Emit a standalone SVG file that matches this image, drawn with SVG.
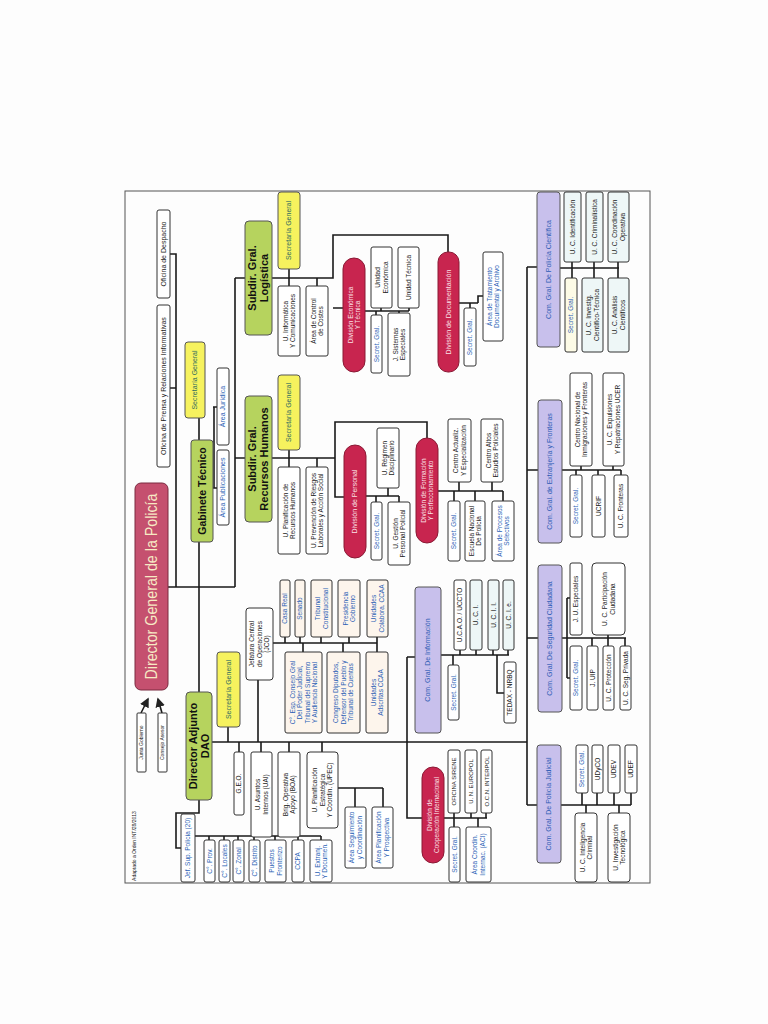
<svg xmlns="http://www.w3.org/2000/svg" width="768" height="1024" viewBox="0 0 768 1024">
<style>
.t{font-family:"Liberation Sans",Arial,sans-serif;font-size:6.5px;fill:#1a1a1a}
.b{fill:#2a5fb5}
.y{fill:#2c6b60;font-size:7px}
.r{fill:#fbe3e8}
.p{fill:#2d5bb5;font-size:7px}
.g{font-weight:bold;font-size:11px;fill:#111}
.w{fill:#fff;stroke:#333;stroke-width:1}
.wl{fill:#eef7f7;stroke:#333;stroke-width:1}
.pk{fill:#fdf5ec;stroke:#333;stroke-width:1}
.cr{fill:#fdfbe6;stroke:#333;stroke-width:1}
.yl{fill:#f6f25e;stroke:#555;stroke-width:1}
.gr{fill:#b6d35e;stroke:#555;stroke-width:1}
.rd{fill:#c8254f;stroke:#8a1a35;stroke-width:1}
.pu{fill:#c8c0ec;stroke:#555;stroke-width:1}
.c path{fill:none;stroke:#1a1a1a;stroke-width:1.6}
</style>
<defs>
<marker id="ah" markerWidth="6" markerHeight="6" refX="5" refY="3" orient="auto"><path d="M0,0 L6,3 L0,6 z" fill="#222"/></marker>
</defs>
<rect width="768" height="1024" fill="#fdfdfd"/>
<rect x="125" y="191" width="525" height="692" fill="none" stroke="#555" stroke-width="1"/>

<g class="c" id="connectors">
<path d="M170 254 H176 V587 M168 388 H176 M168 587 H235 M235 278 V587 M235 278 H245 M235 458 H245"/>
<path d="M199 418 V440 M199 542 V692 M213 407 H217 M214 407 V488 M213 488 H217"/>
<path d="M272 278 H333 V235 H448 V252 M333 308 H343 M289 269 V286 M317 278 V286"/>
<path d="M365 311 H409 M381 308 V311 M409 308 V311 M376 311 V315 M399 311 V313"/>
<path d="M459 303 H478 M470 303 V308 M478 303 V296 H483"/>
<path d="M527 267 V805 M527 267 H537 M527 470 H538 M527 638 H538 M527 805 H537"/>
<path d="M560 268 H619 M572 262 V278 M594 262 V278 M618 262 V278"/>
<path d="M562 470 H621 M581 466 V470 M576 470 V475 M613 466 V470 M598 470 V475 M621 470 V475"/>
<path d="M562 638 H626 M608 635 V638 M592 638 V646 M608 638 V646 M625 638 V646 M567 598 V678 M567 598 H570 M567 678 H570"/>
<path d="M561 805 H631 M582 793 V805 M597 793 V805 M614 793 V805 M631 793 V805 M586 805 V813 M619 805 V813"/>
<path d="M212 742 H527 M228 727 V742 M239 742 V752 M261 742 V752 M289 742 V752 M322 742 V752 M258 680 V742 M407 657 V818 H422 M407 657 H415"/>
<path d="M273 643 H377 M285 637 V643 M300 637 V643 M321 637 V643 M349 637 V643 M377 637 V643 M303 643 V652 M343 643 V652 M377 643 V652"/>
<path d="M338 788 H383 M355 788 V807 M383 788 V807"/>
<path d="M199 800 V813 H176 V848 H181 M195 836 H321 M209 836 V840 M224 836 V840 M238 836 V840 M254 836 V840 M275 836 V840 M298 836 V840 M321 836 V840"/>
<path d="M441 655 H509 M460 650 V655 M476 650 V655 M493 650 V655 M508 650 V655 M453 655 V665 M497 655 V693 H504"/>
<path d="M444 818 H487 M454 813 V818 M471 813 V818 M486 813 V818 M454 818 V827 M478 818 V827"/>
<path d="M272 458 H335 V422 H427 V438 M335 458 V497 H344 M289 450 V467 M317 458 V467"/>
<path d="M366 496 H399 M388 488 V496 M376 496 V502 M399 496 V502"/>
<path d="M438 491 H503 M459 482 V491 M492 482 V491 M454 491 V501 M475 491 V501 M503 491 V501"/>
<path d="M141 713 L148 699" stroke-width="1.2" marker-end="url(#ah)"/>
<path d="M162 713 L158 699" stroke-width="1.2" marker-end="url(#ah)"/>
</g>

<g text-anchor="middle">
<text class="t" style="font-size:5px" transform="rotate(-90 134 846)" x="134" y="847.75">Adaptado a Orden INT/28/2013</text>

<g id="desp"><rect class="w" x="157" y="210" width="13" height="88" rx="2"/><text class="t" style="font-size:7px" transform="rotate(-90 163.5 254)" x="163.5" y="256.45">Oficina de Despacho</text></g>
<g id="prensa"><rect class="w" x="157" y="305" width="13" height="162" rx="2"/><text class="t" style="font-size:7px" transform="rotate(-90 163.5 386)" x="163.5" y="388.45">Oficina de Prensa y Relaciones Informativas</text></g>
<g id="dg"><rect x="135" y="483" width="33" height="207" rx="6" fill="#c5506f" stroke="#7a2a40"/><text class="t" style="font-size:16px;fill:#f7eac4" transform="rotate(-90 151.5 586.5)" x="151.5" y="592" textLength="186" lengthAdjust="spacingAndGlyphs">Director General de la Policía</text></g>
<g id="junta"><rect class="w" x="137" y="713" width="9" height="59" rx="1"/><text class="t" style="font-size:5px" transform="rotate(-90 141.5 742.5)" x="141.5" y="744.25">Junta Gobierno</text></g>
<g id="consejo"><rect class="w" x="158" y="713" width="9" height="59" rx="1"/><text class="t" style="font-size:5px" transform="rotate(-90 162.5 742.5)" x="162.5" y="744.25">Consejo Asesor</text></g>

<g id="gab_sec"><rect class="yl" x="185" y="342" width="20" height="76" rx="3"/><text class="t y" transform="rotate(-90 195 380)" x="195" y="382.45">Secretaría General</text></g>
<g id="gab"><rect class="gr" x="191" y="440" width="22" height="102" rx="3"/><text class="t g" style="font-size:10.5px" transform="rotate(-90 202 491)" x="202" y="494.7">Gabinete Técnico</text></g>
<g id="area_jur"><rect class="w" x="217" y="368" width="12" height="77" rx="2"/><text class="t b" style="font-size:7px" transform="rotate(-90 223 406.5)" x="223" y="408.95">Área Jurídica</text></g>
<g id="area_pub"><rect class="w" x="217" y="450" width="12" height="75" rx="2"/><text class="t b" style="font-size:7px" transform="rotate(-90 223 487.5)" x="223" y="489.95">Área Publicaciones</text></g>

<g id="sub_log"><rect class="gr" x="245" y="221" width="27" height="114" rx="4"/><text class="t g" transform="rotate(-90 258.5 278)" x="258.5" y="275.85">Subdir. Gral.<tspan x="258.5" dy="12">Logística</tspan></text></g>
<g id="log_sec"><rect class="yl" x="278" y="192" width="22" height="77" rx="3"/><text class="t y" transform="rotate(-90 289 230.5)" x="289" y="232.95">Secretaría General</text></g>
<g id="u_inf"><rect class="w" x="278" y="286" width="22" height="70" rx="2"/><text class="t" transform="rotate(-90 289 321)" x="289" y="319.55">U. Informática<tspan x="289" dy="7.5">Y Comunicaciones</tspan></text></g>
<g id="area_ctrl"><rect class="w" x="306" y="286" width="22" height="70" rx="2"/><text class="t" transform="rotate(-90 317 321)" x="317" y="319.55">Área de Control<tspan x="317" dy="7.5">de Costes</tspan></text></g>
<g id="div_econ"><rect class="rd" x="343" y="258" width="22" height="114" rx="11"/><text class="t r" transform="rotate(-90 354 315)" x="354" y="313.55">División Económica<tspan x="354" dy="7.5">Y Técnica</tspan></text></g>
<g id="u_econ"><rect class="w" x="371" y="247" width="21" height="61" rx="2"/><text class="t" transform="rotate(-90 381.5 277.5)" x="381.5" y="276.05">Unidad<tspan x="381.5" dy="7.5">Económica</tspan></text></g>
<g id="u_tec"><rect class="w" x="398" y="247" width="21" height="61" rx="2"/><text class="t" transform="rotate(-90 408.5 277.5)" x="408.5" y="279.8">Unidad Técnica</text></g>
<g id="econ_sec"><rect class="w" x="371" y="315" width="11" height="58" rx="2"/><text class="t b" transform="rotate(-90 376.5 344)" x="376.5" y="346.3">Secret. Gral.</text></g>
<g id="j_sist"><rect class="w" x="388" y="313" width="22" height="63" rx="2"/><text class="t" transform="rotate(-90 399 344.5)" x="399" y="343.05">J. Sistemas<tspan x="399" dy="7.5">Especiales</tspan></text></g>
<g id="div_doc"><rect class="rd" x="438" y="252" width="21" height="120" rx="10"/><text class="t r" style="font-size:7px" transform="rotate(-90 448.5 312)" x="448.5" y="314.45">División de Documentación</text></g>
<g id="doc_sec"><rect class="w" x="464" y="308" width="12" height="58" rx="2"/><text class="t b" transform="rotate(-90 470 337)" x="470" y="339.3">Secret. Gral.</text></g>
<g id="area_trat"><rect class="w" x="483" y="252" width="20" height="89" rx="2"/><text class="t b" transform="rotate(-90 493 296.5)" x="493" y="295.05">Área de Tratamiento<tspan x="493" dy="7.5">Documental y Archivo</tspan></text></g>

<g id="cg_cien"><rect class="pu" x="537" y="192" width="23" height="155" rx="3"/><text class="t p" transform="rotate(-90 548.5 269.5)" x="548.5" y="271.95">Com. Gral. De Policía Científica</text></g>
<g id="uc_ident"><rect class="wl" x="564" y="192" width="17" height="70" rx="2"/><text class="t" transform="rotate(-90 572.5 227)" x="572.5" y="229.3">U. C. Identificación</text></g>
<g id="uc_crim"><rect class="wl" x="586" y="192" width="17" height="70" rx="2"/><text class="t" transform="rotate(-90 594.5 227)" x="594.5" y="229.3">U. C. Criminalística</text></g>
<g id="uc_coord"><rect class="wl" x="608" y="192" width="21" height="70" rx="2"/><text class="t" transform="rotate(-90 618.5 227)" x="618.5" y="225.55">U. C. Coordinación<tspan x="618.5" dy="7.5">Operativa</tspan></text></g>
<g id="cien_sec"><rect class="cr" x="565" y="278" width="12" height="74" rx="2"/><text class="t b" transform="rotate(-90 571 315)" x="571" y="317.3">Secret. Gral.</text></g>
<g id="uc_invest"><rect class="wl" x="582" y="278" width="21" height="74" rx="2"/><text class="t" transform="rotate(-90 592.5 315)" x="592.5" y="313.55">U. C. Investig.<tspan x="592.5" dy="7.5">Científico-Técnica</tspan></text></g>
<g id="uc_anal"><rect class="wl" x="608" y="278" width="21" height="74" rx="2"/><text class="t" transform="rotate(-90 618.5 315)" x="618.5" y="313.55">U. C. Análisis<tspan x="618.5" dy="7.5">Científicos</tspan></text></g>

<g id="sub_rrhh"><rect class="gr" x="245" y="396" width="27" height="126" rx="4"/><text class="t g" transform="rotate(-90 258.5 459)" x="258.5" y="456.85">Subdir. Gral.<tspan x="258.5" dy="12">Recursos Humanos</tspan></text></g>
<g id="rrhh_sec"><rect class="yl" x="278" y="375" width="22" height="75" rx="3"/><text class="t y" transform="rotate(-90 289 412.5)" x="289" y="414.95">Secretaría General</text></g>
<g id="u_plan_rrhh"><rect class="w" x="278" y="467" width="22" height="87" rx="2"/><text class="t" transform="rotate(-90 289 510.5)" x="289" y="509.05">U. Planificación de<tspan x="289" dy="7.5">Recursos Humanos</tspan></text></g>
<g id="u_prev"><rect class="w" x="306" y="467" width="22" height="87" rx="2"/><text class="t" transform="rotate(-90 317 510.5)" x="317" y="509.05">U. Prevención de Riesgos<tspan x="317" dy="7.5">Laborales y Acción Social</tspan></text></g>
<g id="div_pers"><rect class="rd" x="344" y="445" width="22" height="113" rx="11"/><text class="t r" style="font-size:7px" transform="rotate(-90 355 501.5)" x="355" y="503.95">División de Personal</text></g>
<g id="u_reg"><rect class="w" x="377" y="428" width="22" height="60" rx="2"/><text class="t" transform="rotate(-90 388 458)" x="388" y="456.55">U. Régimen<tspan x="388" dy="7.5">Disciplinario</tspan></text></g>
<g id="pers_sec"><rect class="w" x="371" y="502" width="11" height="58" rx="2"/><text class="t b" transform="rotate(-90 376.5 531)" x="376.5" y="533.3">Secret. Gral.</text></g>
<g id="u_gest"><rect class="w" x="388" y="502" width="22" height="63" rx="2"/><text class="t" transform="rotate(-90 399 533.5)" x="399" y="532.05">U. Gestión<tspan x="399" dy="7.5">Personal Policial</tspan></text></g>
<g id="div_form"><rect class="rd" x="416" y="438" width="22" height="105" rx="11"/><text class="t r" transform="rotate(-90 427 490.5)" x="427" y="489.05">División de Formación<tspan x="427" dy="7.5">Y Perfeccionamiento</tspan></text></g>
<g id="centro_act"><rect class="w" x="448" y="419" width="23" height="63" rx="2"/><text class="t" transform="rotate(-90 459.5 450.5)" x="459.5" y="449.05">Centro Actualiz.<tspan x="459.5" dy="7.5">Y Especialización</tspan></text></g>
<g id="centro_alt"><rect class="w" x="481" y="419" width="22" height="63" rx="2"/><text class="t" transform="rotate(-90 492 450.5)" x="492" y="449.05">Centro Altos<tspan x="492" dy="7.5">Estudios Policiales</tspan></text></g>
<g id="form_sec"><rect class="w" x="448" y="501" width="12" height="60" rx="2"/><text class="t b" transform="rotate(-90 454 531)" x="454" y="533.3">Secret. Gral.</text></g>
<g id="escuela"><rect class="w" x="465" y="501" width="20" height="60" rx="2"/><text class="t" transform="rotate(-90 475 531)" x="475" y="529.55">Escuela Nacional<tspan x="475" dy="7.5">De Policía</tspan></text></g>
<g id="area_proc"><rect class="w" x="492" y="501" width="22" height="60" rx="2"/><text class="t b" transform="rotate(-90 503 531)" x="503" y="529.55">Área de Procesos<tspan x="503" dy="7.5">Selectivos</tspan></text></g>

<g id="cg_ext"><rect class="pu" x="538" y="400" width="24" height="143" rx="3"/><text class="t p" transform="rotate(-90 550 471.5)" x="550" y="473.95">Com. Gral. de Extranjería y Fronteras</text></g>
<g id="cn_inm"><rect class="w" x="570" y="373" width="22" height="93" rx="2"/><text class="t" transform="rotate(-90 581 419.5)" x="581" y="418.05">Centro Nacional de<tspan x="581" dy="7.5">Inmigraciones y Fronteras</tspan></text></g>
<g id="uc_exp"><rect class="w" x="603" y="373" width="21" height="93" rx="2"/><text class="t" transform="rotate(-90 613.5 419.5)" x="613.5" y="418.05">U. C. Expulsiones<tspan x="613.5" dy="7.5">Y Repatriaciones UCER</tspan></text></g>
<g id="ext_sec"><rect class="w" x="570" y="475" width="12" height="62" rx="2"/><text class="t b" transform="rotate(-90 576 506)" x="576" y="508.3">Secret. Gral.</text></g>
<g id="ucrif"><rect class="w" x="592" y="475" width="13" height="62" rx="2"/><text class="t" transform="rotate(-90 598.5 506)" x="598.5" y="508.3">UCRIF</text></g>
<g id="uc_front"><rect class="w" x="614" y="475" width="14" height="62" rx="2"/><text class="t" transform="rotate(-90 621 506)" x="621" y="508.3">U. C. Fronteras</text></g>

<g id="jco"><rect class="w" x="246" y="608" width="27" height="72" rx="3"/><text class="t" transform="rotate(-90 259.5 644)" x="259.5" y="638.8">Jefatura Central<tspan x="259.5" dy="7.5">de Operaciones</tspan><tspan x="259.5" dy="7.5">(JCO)</tspan></text></g>
<g id="casa_real"><rect class="pk" x="280" y="580" width="10" height="57" rx="2"/><text class="t b" transform="rotate(-90 285 608.5)" x="285" y="610.8">Casa Real</text></g>
<g id="senado"><rect class="pk" x="295" y="580" width="10" height="57" rx="2"/><text class="t b" transform="rotate(-90 300 608.5)" x="300" y="610.8">Senado</text></g>
<g id="trib_const"><rect class="pk" x="311" y="580" width="21" height="57" rx="2"/><text class="t b" transform="rotate(-90 321.5 608.5)" x="321.5" y="607.05">Tribunal<tspan x="321.5" dy="7.5">Constitucional</tspan></text></g>
<g id="pres_gob"><rect class="pk" x="338" y="580" width="22" height="57" rx="2"/><text class="t b" transform="rotate(-90 349 608.5)" x="349" y="607.05">Presidencia<tspan x="349" dy="7.5">Gobierno</tspan></text></g>
<g id="u_colab"><rect class="pk" x="367" y="580" width="21" height="57" rx="2"/><text class="t b" transform="rotate(-90 377.5 608.5)" x="377.5" y="607.05">Unidades<tspan x="377.5" dy="7.5">Colabora. CCAA</tspan></text></g>
<g id="c_esp"><rect class="pk" x="285" y="652" width="37" height="81" rx="2"/><text class="t b" transform="rotate(-90 303.5 692.5)" x="303.5" y="683.55">C°. Esp. Consejo Gral<tspan x="303.5" dy="7.5">Del Poder Judicial,</tspan><tspan x="303.5" dy="7.5">Tribunal del Supremo</tspan><tspan x="303.5" dy="7.5">Y Audiencia Nacional</tspan></text></g>
<g id="congreso"><rect class="pk" x="327" y="652" width="33" height="81" rx="2"/><text class="t b" transform="rotate(-90 343.5 692.5)" x="343.5" y="687.3">Congreso Diputados,<tspan x="343.5" dy="7.5">Defensor del Pueblo y</tspan><tspan x="343.5" dy="7.5">Tribunal de Cuentas</tspan></text></g>
<g id="u_adsc"><rect class="pk" x="366" y="652" width="22" height="81" rx="2"/><text class="t b" transform="rotate(-90 377 692.5)" x="377" y="691.05">Unidades<tspan x="377" dy="7.5">Adscritas CCAA</tspan></text></g>

<g id="dao"><rect class="gr" x="186" y="692" width="26" height="108" rx="4"/><text class="t g" transform="rotate(-90 199 746)" x="199" y="743.85">Director Adjunto<tspan x="199" dy="12">DAO</tspan></text></g>
<g id="dao_sec"><rect class="yl" x="217" y="652" width="23" height="75" rx="3"/><text class="t y" transform="rotate(-90 228.5 689.5)" x="228.5" y="691.95">Secretaría General</text></g>
<g id="geo"><rect class="w" x="234" y="752" width="10" height="63" rx="2"/><text class="t" transform="rotate(-90 239 783.5)" x="239" y="785.8">G.E.O.</text></g>
<g id="uai"><rect class="w" x="251" y="752" width="21" height="85" rx="2"/><text class="t" transform="rotate(-90 261.5 794.5)" x="261.5" y="793.05">U. Asuntos<tspan x="261.5" dy="7.5">Internos (UAI)</tspan></text></g>
<g id="boa"><rect class="w" x="278" y="752" width="22" height="85" rx="2"/><text class="t" transform="rotate(-90 289 794.5)" x="289" y="793.05">Brig. Operativa<tspan x="289" dy="7.5">Apoyo (BOA)</tspan></text></g>
<g id="upec"><rect class="w" x="307" y="752" width="31" height="76" rx="3"/><text class="t" transform="rotate(-90 322.5 790)" x="322.5" y="784.8">U. Planificación<tspan x="322.5" dy="7.5">Estratégica</tspan><tspan x="322.5" dy="7.5">Y Coordin. (UPEC)</tspan></text></g>
<g id="area_seg"><rect class="w" x="345" y="807" width="21" height="61" rx="2"/><text class="t b" transform="rotate(-90 355.5 837.5)" x="355.5" y="836.05">Área Seguimiento<tspan x="355.5" dy="7.5">y Coordinación</tspan></text></g>
<g id="area_plan"><rect class="w" x="372" y="807" width="21" height="61" rx="2"/><text class="t b" transform="rotate(-90 382.5 837.5)" x="382.5" y="836.05">Área Planificación<tspan x="382.5" dy="7.5">Y Prospectiva</tspan></text></g>
<g id="jef_sup"><rect class="w" x="181" y="814" width="14" height="68" rx="2"/><text class="t b" transform="rotate(-90 188 848)" x="188" y="850.3">Jef. Sup. Policía (20)</text></g>
<g id="c_prov"><rect class="w" x="204" y="840" width="11" height="42" rx="2"/><text class="t b" transform="rotate(-90 209.5 861)" x="209.5" y="863.3">C°. Prov.</text></g>
<g id="c_loc"><rect class="w" x="219" y="840" width="11" height="42" rx="2"/><text class="t b" transform="rotate(-90 224.5 861)" x="224.5" y="863.3">C°. Locales</text></g>
<g id="c_zon"><rect class="w" x="233" y="840" width="11" height="42" rx="2"/><text class="t b" transform="rotate(-90 238.5 861)" x="238.5" y="863.3">C°. Zonal</text></g>
<g id="c_dist"><rect class="w" x="249" y="840" width="11" height="42" rx="2"/><text class="t b" transform="rotate(-90 254.5 861)" x="254.5" y="863.3">C°. Distrito</text></g>
<g id="puestos"><rect class="w" x="265" y="840" width="21" height="42" rx="2"/><text class="t b" transform="rotate(-90 275.5 861)" x="275.5" y="859.55">Puestos<tspan x="275.5" dy="7.5">Fronterizo</tspan></text></g>
<g id="ccpa"><rect class="w" x="292" y="840" width="12" height="42" rx="2"/><text class="t b" transform="rotate(-90 298 861)" x="298" y="863.3">CCPA</text></g>
<g id="u_extr"><rect class="w" x="310" y="840" width="22" height="42" rx="2"/><text class="t b" transform="rotate(-90 321 861)" x="321" y="859.55">U. Extranj.<tspan x="321" dy="7.5">Y Documen.</tspan></text></g>

<g id="cg_inf"><rect class="pu" x="415" y="587" width="26" height="146" rx="3"/><text class="t p" transform="rotate(-90 428 660)" x="428" y="662.45">Com. Gral. De Información</text></g>
<g id="ucao"><rect class="w" x="454" y="580" width="12" height="70" rx="2"/><text class="t" transform="rotate(-90 460 615)" x="460" y="617.3">U.C.A.O. / UCCTO</text></g>
<g id="uci"><rect class="wl" x="470" y="580" width="12" height="70" rx="2"/><text class="t" transform="rotate(-90 476 615)" x="476" y="617.3">U. C. I.</text></g>
<g id="ucii"><rect class="wl" x="488" y="580" width="11" height="70" rx="2"/><text class="t" transform="rotate(-90 493.5 615)" x="493.5" y="617.3">U. C. I. I.</text></g>
<g id="ucie"><rect class="wl" x="503" y="580" width="11" height="70" rx="2"/><text class="t" transform="rotate(-90 508.5 615)" x="508.5" y="617.3">U. C. I. e.</text></g>
<g id="inf_sec"><rect class="w" x="448" y="665" width="11" height="55" rx="2"/><text class="t b" transform="rotate(-90 453.5 692.5)" x="453.5" y="694.8">Secret. Gral.</text></g>
<g id="tedax"><rect class="w" x="504" y="662" width="12" height="61" rx="2"/><text class="t" transform="rotate(-90 510 692.5)" x="510" y="694.8">TEDAX - NRBQ</text></g>

<g id="div_coop"><rect class="rd" x="422" y="767" width="22" height="96" rx="11"/><text class="t r" transform="rotate(-90 433 815)" x="433" y="813.55">División de<tspan x="433" dy="7.5">Cooperación Internacional</tspan></text></g>
<g id="sirene"><rect class="w" x="448" y="750" width="12" height="63" rx="2"/><text class="t" style="font-size:6px" transform="rotate(-90 454 781.5)" x="454" y="783.6">OFICINA SIRENE</text></g>
<g id="europol"><rect class="w" x="465" y="750" width="12" height="63" rx="2"/><text class="t" style="font-size:6px" transform="rotate(-90 471 781.5)" x="471" y="783.6">U. N. EUROPOL</text></g>
<g id="interpol"><rect class="w" x="481" y="750" width="11" height="63" rx="2"/><text class="t" style="font-size:6px" transform="rotate(-90 486.5 781.5)" x="486.5" y="783.6">O.C.N. INTERPOL</text></g>
<g id="coop_sec"><rect class="w" x="449" y="827" width="11" height="55" rx="2"/><text class="t b" transform="rotate(-90 454.5 854.5)" x="454.5" y="856.8">Secret. Gral.</text></g>
<g id="aci"><rect class="w" x="466" y="827" width="25" height="55" rx="2"/><text class="t b" transform="rotate(-90 478.5 854.5)" x="478.5" y="853.05">Área Coordin.<tspan x="478.5" dy="7.5">Internac. (ACI)</tspan></text></g>

<g id="cg_seg"><rect class="pu" x="538" y="565" width="24" height="147" rx="3"/><text class="t p" transform="rotate(-90 550 638.5)" x="550" y="640.95">Com. Gral. De Seguridad Ciudadana</text></g>
<g id="ju_esp"><rect class="w" x="570" y="563" width="12" height="72" rx="2"/><text class="t" transform="rotate(-90 576 599)" x="576" y="601.3">J. U. Especiales</text></g>
<g id="uc_part"><rect class="w" x="592" y="563" width="33" height="72" rx="4"/><text class="t" transform="rotate(-90 608.5 599)" x="608.5" y="597.55">U. C. Participación<tspan x="608.5" dy="7.5">Ciudadana</tspan></text></g>
<g id="seg_sec"><rect class="w" x="570" y="646" width="12" height="64" rx="2"/><text class="t b" transform="rotate(-90 576 678)" x="576" y="680.3">Secret. Gral.</text></g>
<g id="j_uip"><rect class="w" x="587" y="646" width="11" height="64" rx="2"/><text class="t" transform="rotate(-90 592.5 678)" x="592.5" y="680.3">J. UIP</text></g>
<g id="uc_prot"><rect class="w" x="603" y="646" width="11" height="64" rx="2"/><text class="t" transform="rotate(-90 608.5 678)" x="608.5" y="680.3">U. C. Protección</text></g>
<g id="uc_segpriv"><rect class="w" x="620" y="646" width="11" height="64" rx="2"/><text class="t" transform="rotate(-90 625.5 678)" x="625.5" y="680.3">U. C. Seg. Privada</text></g>

<g id="cg_jud"><rect class="pu" x="537" y="745" width="24" height="118" rx="3"/><text class="t p" transform="rotate(-90 549 804)" x="549" y="806.45">Com. Gral. De Policía Judicial</text></g>
<g id="jud_sec"><rect class="w" x="576" y="745" width="12" height="48" rx="2"/><text class="t b" transform="rotate(-90 582 769)" x="582" y="771.3">Secret. Gral.</text></g>
<g id="udyco"><rect class="w" x="592" y="745" width="11" height="48" rx="2"/><text class="t" transform="rotate(-90 597.5 769)" x="597.5" y="771.3">UDyCO</text></g>
<g id="udev"><rect class="w" x="608" y="745" width="12" height="48" rx="2"/><text class="t" transform="rotate(-90 614 769)" x="614" y="771.3">UDEV</text></g>
<g id="udef"><rect class="w" x="625" y="745" width="12" height="48" rx="2"/><text class="t" transform="rotate(-90 631 769)" x="631" y="771.3">UDEF</text></g>
<g id="uc_intel"><rect class="w" x="575" y="813" width="22" height="69" rx="3"/><text class="t" transform="rotate(-90 586 847.5)" x="586" y="846.05">U. C. Inteligencia<tspan x="586" dy="7.5">Criminal</tspan></text></g>
<g id="u_invtec"><rect class="w" x="608" y="813" width="22" height="69" rx="3"/><text class="t" transform="rotate(-90 619 847.5)" x="619" y="846.05">U. Investigación<tspan x="619" dy="7.5">Tecnológica</tspan></text></g>
</g>
</svg>
